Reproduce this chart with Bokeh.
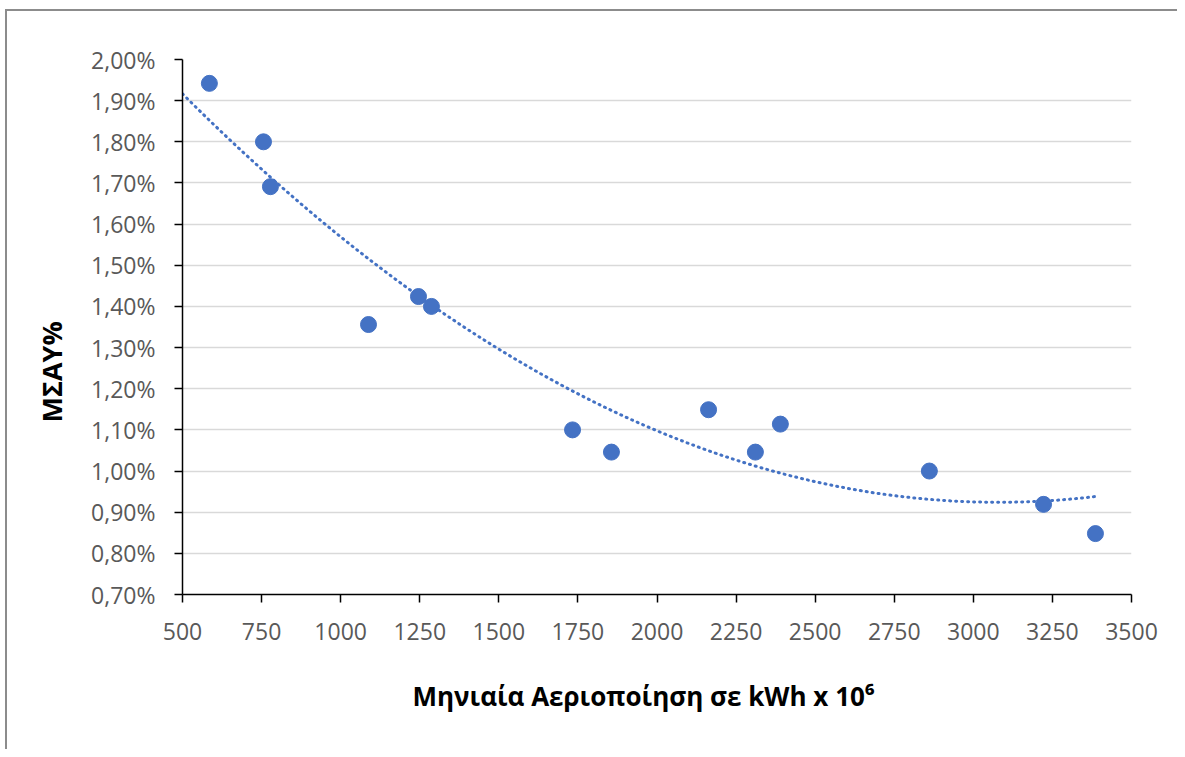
import numpy as np
from bokeh.plotting import figure
from bokeh.models import FixedTicker, CustomJSTickFormatter, Range1d, Title
from bokeh.embed import file_html
from bokeh.resources import INLINE

# Monthly gasification (kWh x 10^6) and ΜΣΑΥ %
gasification = [585, 756, 778, 1088, 1246, 1287, 1733, 1856, 2163, 2311, 2390, 2861, 3222, 3386]
msay_pct = [1.942, 1.800, 1.691, 1.356, 1.424, 1.400, 1.100, 1.046, 1.149, 1.046, 1.114, 1.000, 0.919, 0.848]

x_ticks = [500, 750, 1000, 1250, 1500, 1750, 2000, 2250, 2500, 2750, 3000, 3250, 3500]
y_ticks = [0.7, 0.8, 0.9, 1.0, 1.1, 1.2, 1.3, 1.4, 1.5, 1.6, 1.7, 1.8, 1.9, 2.0]

x_title = "Μηνιαία Αεριοποίηση σε kWh x 10⁶"
y_title = "ΜΣΑΥ%"

# polynomial (order 2) trendline as in the spreadsheet
coef = np.polyfit(gasification, msay_pct, 2)
trend_x = np.linspace(500, max(gasification), 200)
trend_y = np.polyval(coef, trend_x)

BLUE = "#4472C4"
FONT = "Open Sans"

p = figure(width=1172, height=740, output_backend="svg", toolbar_location=None,
           x_range=Range1d(500, 3500), y_range=Range1d(0.7, 2.0),
           min_border_left=175, min_border_right=48, min_border_top=48, min_border_bottom=157)

p.outline_line_color = None
p.background_fill_color = "white"
p.border_fill_color = "white"

p.line(trend_x, trend_y, line_color=BLUE, line_width=3, line_dash="1 5", line_cap="round")
p.scatter(gasification, msay_pct, size=16, fill_color=BLUE, line_color=BLUE, line_width=1)

p.xaxis.ticker = FixedTicker(ticks=x_ticks)
p.yaxis.ticker = FixedTicker(ticks=y_ticks)
p.yaxis.formatter = CustomJSTickFormatter(code="return tick.toFixed(2).replace('.', ',') + '%';")

for ax in (p.xaxis, p.yaxis):
    ax.axis_line_color = "black"
    ax.axis_line_width = 1.5
    ax.major_tick_line_color = "black"
    ax.major_tick_line_width = 1.5
    ax.major_tick_out = 8
    ax.major_tick_in = 0
    ax.minor_tick_line_color = None
    ax.major_label_text_font = FONT
    ax.major_label_text_font_size = "23px"
    ax.major_label_text_color = "#595959"

p.xaxis.major_label_standoff = 20
p.yaxis.major_label_standoff = 19

# axis titles placed as in the original (slightly off-centre)
p.add_layout(Title(text=x_title, text_font=FONT, text_font_style="bold",
                   text_font_size="26px", text_color="black",
                   align="left", offset=230, vertical_align="middle", standoff=69), "below")
p.add_layout(Title(text=y_title, text_font=FONT, text_font_style="bold",
                   text_font_size="27px", text_color="black",
                   align="left", offset=172, vertical_align="middle", standoff=36), "left")

p.xgrid.grid_line_color = None
p.ygrid.grid_line_color = "#D9D9D9"
p.ygrid.grid_line_width = 1.5

p.styles = {"margin-left": "7px", "margin-top": "11px",
            "box-shadow": "-2px -2px 0 0 #8c8c8c"}

open("out.html", "w").write(file_html(p, INLINE))
